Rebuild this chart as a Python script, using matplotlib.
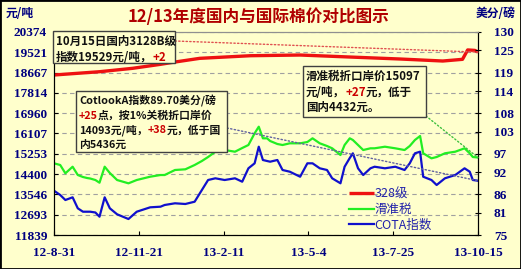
import numpy as np
import pandas as pd
import matplotlib
matplotlib.use("Agg")
import matplotlib.pyplot as plt
import matplotlib.dates as mdates
from matplotlib.patches import Rectangle, ConnectionPatch

plt.rcParams['font.family'] = ['Noto Sans CJK SC', 'DejaVu Sans']

# ---- data ----
dates_gb = ['2012-08-31', '2012-09-06', '2012-09-11', '2012-09-18', '2012-09-23', '2012-09-28',
            '2012-10-02', '2012-10-05', '2012-10-10', '2012-10-14', '2012-10-19', '2012-10-24',
            '2012-10-31', '2012-11-11', '2012-11-19', '2012-12-02', '2012-12-12', '2012-12-16',
            '2012-12-26', '2013-01-05', '2013-01-14', '2013-01-21', '2013-01-27', '2013-02-03',
            '2013-02-12', '2013-02-22', '2013-03-01', '2013-03-07', '2013-03-13', '2013-03-17',
            '2013-03-21', '2013-03-25', '2013-03-28', '2013-04-04', '2013-04-09', '2013-04-16',
            '2013-04-26', '2013-05-03', '2013-05-08', '2013-05-15', '2013-05-22', '2013-05-27',
            '2013-06-04', '2013-06-08', '2013-06-13', '2013-06-16', '2013-06-21', '2013-06-26',
            '2013-07-03', '2013-07-07', '2013-07-17', '2013-07-27', '2013-08-05', '2013-08-10',
            '2013-08-15', '2013-08-20', '2013-08-23', '2013-08-31', '2013-09-05', '2013-09-13',
            '2013-09-23', '2013-10-02', '2013-10-07', '2013-10-10', '2013-10-15']

huazhun = [14853, 14782, 14433, 14710, 14361, 14277, 14235, 14214, 14151, 14038,
           14710, 14445, 14151, 14012, 14151, 14290, 14361, 14361, 14572, 14601,
           14782, 14950, 15118, 15341, 15412, 15341, 15496, 15623, 16114, 16392,
           15904, 15904, 15791, 15665, 15623, 15694, 15694, 15749, 15904, 15694,
           15581, 15484, 15202, 15623, 15904, 15833, 15623, 15412, 15484, 15484,
           15551, 15484, 15412, 15581, 15833, 16001, 15274, 15063, 15118, 15274,
           15341, 15484, 15274, 15118, 15097]

cota = [87.00, 85.84, 84.48, 85.21, 82.23, 81.31, 81.31, 81.31, 81.10, 79.96,
        85.21, 82.23, 80.61, 79.33, 81.31, 82.50, 82.67, 83.13, 83.59, 83.40,
        84.02, 87.19, 89.90, 90.36, 89.90, 90.36, 89.44, 93.07, 94.42, 98.92,
        95.32, 95.05, 94.86, 95.32, 92.61, 92.15, 90.79, 94.42, 94.42, 93.07,
        92.61, 90.36, 89.01, 93.50, 95.86, 97.13, 93.07, 91.25, 93.07, 93.50,
        93.07, 93.50, 92.61, 94.42, 97.13, 97.57, 90.79, 89.90, 88.55, 90.36,
        91.25, 93.07, 92.15, 89.90, 89.70]

dates_328 = ['2012-08-31', '2012-10-14', '2012-11-15', '2012-12-12', '2012-12-24', '2013-01-19',
             '2013-03-09', '2013-04-26', '2013-06-13', '2013-08-01', '2013-09-11', '2013-09-30',
             '2013-10-05', '2013-10-12', '2013-10-15']
price_328 = [18566, 18704, 18847, 19015, 19099, 19267, 19377, 19406, 19322, 19238,
             19154, 19225, 19620, 19600, 19529]

left_ticks = [11839, 12693, 13546, 14400, 15253, 16107, 16960, 17814, 18667, 19521, 20374]
right_ticks = [75, 81, 86, 92, 97, 103, 108, 114, 119, 125, 130]
x_tick_dates = ['2012-08-31', '2012-11-21', '2013-02-11', '2013-05-04', '2013-07-25', '2013-10-15']
x_tick_labels = ['12-8-31', '12-11-21', '13-2-11', '13-5-4', '13-7-25', '13-10-15']

title = '12/13年度国内与国际棉价对比图示'
series_names = ['328级', '滑准税', 'COTA指数']

# ---- figure ----
W, H = 521, 269
bg = '#FFFFCC'
navy = '#000080'
fig = plt.figure(figsize=(W / 100, H / 100), dpi=100, facecolor=bg)
ax = fig.add_axes([54 / W, 1 - 235 / H, 424 / W, 203 / H])
ax.set_facecolor(bg)
ax2 = ax.twinx()

d_gb = mdates.date2num(pd.to_datetime(dates_gb))
d_328 = mdates.date2num(pd.to_datetime(dates_328))

l1, = ax.plot(d_328, price_328, color='#EE1111', lw=2.4, solid_capstyle='butt')
l2, = ax.plot(d_gb, huazhun, color='#22EE22', lw=1.6)
l3, = ax2.plot(d_gb, cota, color='#1010CC', lw=1.6)

ax.set_ylim(left_ticks[0], left_ticks[-1])
ax2.set_ylim(75, 130)
ax.set_yticks(left_ticks)
ax2.set_yticks(right_ticks)
xt = mdates.date2num(pd.to_datetime(x_tick_dates))
ax.set_xlim(xt[0], xt[-1])
ax.set_xticks(xt)
ax.set_xticklabels(x_tick_labels)

ax.grid(axis='y', color='#A0A0A0', ls=(0, (4, 3)), lw=0.8)

for lab in ax.get_yticklabels() + ax.get_xticklabels() + ax2.get_yticklabels():
    lab.set_fontfamily('Liberation Serif')
    lab.set_fontweight('bold')
    lab.set_fontsize(9.5)
    lab.set_color(navy)

ax.tick_params(axis='y', direction='in', length=3, pad=5, color='black')
ax.tick_params(axis='x', direction='in', length=3, pad=9, color='black')
ax2.tick_params(axis='y', direction='inout', length=5, pad=9, color='black')

for a in (ax, ax2):
    a.spines['top'].set_color('#909090')
    a.spines['left'].set_color('black')
    a.spines['bottom'].set_color('black')
    a.spines['right'].set_color('black')

# legend
leg = ax2.legend([l1, l2, l3], series_names, loc='upper left', bbox_to_anchor=(0.68, 0.265),
                 frameon=False, fontsize=9, handlelength=2.0, handletextpad=0.05,
                 borderpad=0, labelspacing=0.2)
for t in leg.get_texts():
    t.set_color('#2222AA')

# titles / units
fig.text(0.497, 1 - 17 / H, title, ha='center', va='center', fontsize=12,
         fontweight='bold', color='#B00000')
fig.text(6 / W, 1 - 14 / H, '元/吨', ha='left', va='center', fontsize=8.5,
         fontweight='bold', color=navy)
fig.text(515 / W, 1 - 14 / H, '美分/磅', ha='right', va='center', fontsize=8.5,
         fontweight='bold', color=navy)

# outer frame
fig.add_artist(Rectangle((0, 0), 1, 1, transform=fig.transFigure, fill=False,
                         edgecolor='black', lw=2, zorder=10))

renderer = fig.canvas.get_renderer()


def note_box(x0, y0, x1, y1, lines, size, line_h):
    fig.add_artist(Rectangle((x0 / W, 1 - y1 / H), (x1 - x0) / W, (y1 - y0) / H,
                             transform=fig.transFigure, facecolor=bg,
                             edgecolor='#404040', lw=1, zorder=5))
    for i, segs in enumerate(lines):
        x = x0 + 3
        yc = y0 + 3 + line_h * (i + 0.5)
        for txt, col in segs:
            t = fig.text(x / W, 1 - yc / H, txt, ha='left', va='center', fontsize=size,
                         fontweight='bold', color=col, zorder=6)
            x += t.get_window_extent(renderer).width


black = '#111111'
red = '#CC0000'
note_box(53, 31, 175, 63,
         [[('10月15日国内3128B级', black)],
          [('指数19529元/吨，', black), ('+2', red)]], 8.3, 15.5)
note_box(76, 91, 227, 152,
         [[('CotlookA指数89.70美分/磅', black)],
          [('+25', red), ('点，按1%关税折口岸价', black)],
          [('14093元/吨，', black), ('+38', red), ('元，低于国', black)],
          [('内5436元', black)]], 7.8, 14.5)
note_box(303, 66, 426, 117,
         [[('滑准税折口岸价15097', black)],
          [('元/吨，', black), ('+27', red), ('元，低于', black)],
          [('国内4432元。', black)]], 8.3, 15.5)

# leader lines from boxes to latest values
fig.add_artist(ConnectionPatch(xyA=(175, H - 41), coordsA='figure pixels',
                               xyB=(d_328[-1], price_328[-1]), coordsB=ax.transData,
                               color='#E05050', ls=':', lw=1, zorder=4))
fig.add_artist(ConnectionPatch(xyA=(227, H - 128), coordsA='figure pixels',
                               xyB=(d_gb[-1], cota[-1]), coordsB=ax2.transData,
                               color='#6060A0', ls=':', lw=1, zorder=4))
fig.add_artist(ConnectionPatch(xyA=(426, H - 116), coordsA='figure pixels',
                               xyB=(d_gb[-1], huazhun[-1]), coordsB=ax.transData,
                               color='#40C040', ls=':', lw=1, zorder=4))

fig.savefig('out.png', dpi=100, facecolor=bg)
